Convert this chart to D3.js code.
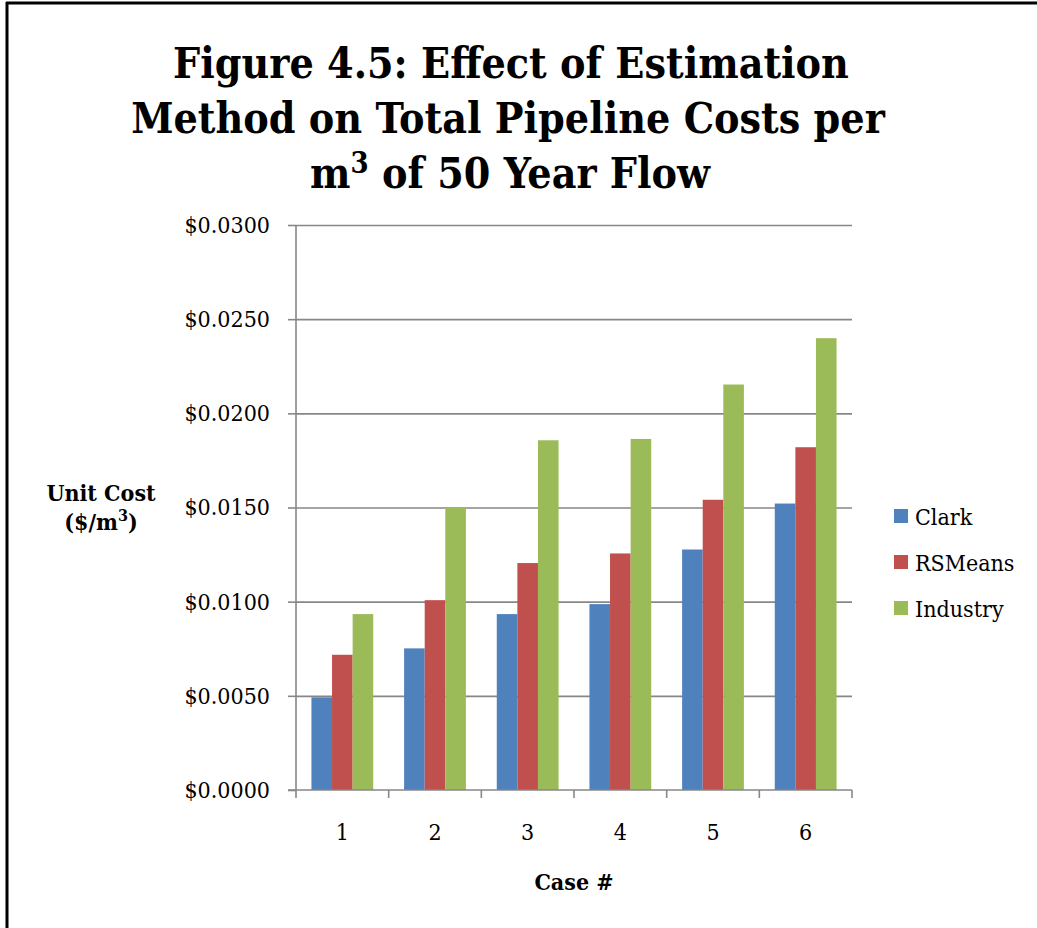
<!DOCTYPE html>
<html>
<head>
<meta charset="utf-8">
<script src="https://cdn.jsdelivr.net/npm/d3@7"></script>
<style>
  html, body { margin: 0; padding: 0; background: #fff; }
  svg { display: block; }
  .serif { font-family: "DejaVu Serif Condensed", "DejaVu Serif", serif; font-stretch: condensed; }
</style>
</head>
<body>
<svg id="chart" width="1037" height="928"></svg>
<script>
// Case numbers along the x axis
const cases = ["1", "2", "3", "4", "5", "6"];
// Estimation methods (legend order)
const methods = ["Clark", "RSMeans", "Industry"];
// Unit cost ($/m³) per case for each method
const clark    = [0.00492, 0.00752, 0.00934, 0.00987, 0.01277, 0.01521];
const rsmeans  = [0.00718, 0.01008, 0.01205, 0.01256, 0.01541, 0.01820];
const industry = [0.00934, 0.01502, 0.01857, 0.01864, 0.02153, 0.02399];
// Y axis tick values
const yTicks = [0, 0.005, 0.010, 0.015, 0.020, 0.025, 0.030];

const seriesValues = { Clark: clark, RSMeans: rsmeans, Industry: industry };
const colors = { Clark: "#4F81BD", RSMeans: "#C0504D", Industry: "#9BBB59" };

const svg = d3.select("#chart");
const FS = 23;        // size of axis, legend and axis-title text
const TITLE_FS = 42.5;

// Outer frame: top and left rules
svg.append("line").attr("x1", 6).attr("x2", 1037).attr("y1", 3).attr("y2", 3)
  .attr("stroke", "#000").attr("stroke-width", 3);
svg.append("line").attr("x1", 7).attr("x2", 7).attr("y1", 2).attr("y2", 928)
  .attr("stroke", "#000").attr("stroke-width", 3);

// Title
const title = svg.append("text").attr("class", "serif")
  .attr("text-anchor", "middle").attr("font-weight", "bold")
  .attr("font-size", TITLE_FS).attr("fill", "#000");
title.append("tspan").attr("x", 511).attr("y", 78).text("Figure 4.5: Effect of Estimation");
title.append("tspan").attr("x", 508).attr("y", 133).text("Method on Total Pipeline Costs per");
title.append("tspan").attr("x", 510).attr("y", 188).text("m");
title.append("tspan").attr("font-size", 29).attr("dy", -15).text("3");
title.append("tspan").attr("dy", 15).text(" of 50 Year Flow");
// center the third line as a whole
{
  const nodes = title.selectAll("tspan").nodes().slice(2);
  let w = 0;
  nodes.forEach(n => { w += n.getComputedTextLength(); });
  d3.select(nodes[0]).attr("x", 510 - w / 2);
  nodes.forEach(n => d3.select(n).attr("text-anchor", "start"));
}

// Plot area
const margin = { left: 296, right: 852, top: 225, bottom: 790 };
const plotW = margin.right - margin.left;

const x0 = d3.scaleBand().domain(cases).range([margin.left, margin.right]).padding(0);
const barW = x0.bandwidth() / 4.5;
const x1 = d3.scaleBand().domain(methods)
  .range([0.75 * barW, x0.bandwidth() - 0.75 * barW]).padding(0);
const y = d3.scaleLinear().domain([0, 0.03]).range([margin.bottom, margin.top]);

const gray = "#878787";

// Horizontal gridlines
svg.append("g")
  .attr("transform", `translate(${margin.left},0)`)
  .call(d3.axisLeft(y).tickValues(yTicks.slice(1)).tickSize(-plotW).tickFormat(""))
  .call(g => g.select(".domain").remove())
  .call(g => g.selectAll("line").attr("stroke", gray).attr("stroke-width", 1.6));

// Bars
const groups = svg.append("g").selectAll("g").data(cases).join("g")
  .attr("transform", d => `translate(${x0(d)},0)`);
groups.selectAll("rect")
  .data((c, i) => methods.map(m => ({ m, v: seriesValues[m][i] })))
  .join("rect")
  .attr("x", d => x1(d.m))
  .attr("width", x1.bandwidth())
  .attr("y", d => y(d.v))
  .attr("height", d => y(0) - y(d.v))
  .attr("fill", d => colors[d.m]);

// Y axis
const yAxis = svg.append("g")
  .attr("transform", `translate(${margin.left},0)`)
  .call(d3.axisLeft(y).tickValues(yTicks).tickSize(8).tickPadding(18)
    .tickFormat(d => "$" + d.toFixed(4)));
yAxis.select(".domain").attr("stroke", gray).attr("stroke-width", 1.6)
  .attr("d", `M0,${margin.top}V${margin.bottom}`);
yAxis.selectAll(".tick line").attr("stroke", gray).attr("stroke-width", 1.6);
yAxis.selectAll(".tick text").attr("class", "serif").attr("font-size", FS).attr("fill", "#000");

// X axis with ticks on category boundaries
const xAxis = svg.append("g").attr("transform", `translate(0,${margin.bottom})`);
xAxis.append("line").attr("x1", margin.left - 8).attr("x2", margin.right)
  .attr("stroke", gray).attr("stroke-width", 1.6);
xAxis.selectAll("line.tk").data(cases.map(c => x0(c)).concat([margin.right])).join("line")
  .attr("class", "tk")
  .attr("x1", d => d).attr("x2", d => d).attr("y1", 0).attr("y2", 8)
  .attr("stroke", gray).attr("stroke-width", 1.6);
xAxis.selectAll("text").data(cases).join("text").attr("class", "serif")
  .attr("x", d => x0(d) + x0.bandwidth() / 2).attr("y", 50)
  .attr("text-anchor", "middle").attr("font-size", FS).attr("fill", "#000")
  .text(d => d);

// Axis titles
svg.append("text").attr("class", "serif").attr("x", 574).attr("y", 890)
  .attr("text-anchor", "middle").attr("font-weight", "bold").attr("font-size", FS)
  .text("Case #");

const yt = svg.append("text").attr("class", "serif").attr("text-anchor", "middle")
  .attr("font-weight", "bold").attr("font-size", FS);
yt.append("tspan").attr("x", 101).attr("y", 501).text("Unit Cost");
yt.append("tspan").attr("x", 101).attr("y", 530).text("($/m");
yt.append("tspan").attr("font-size", 16).attr("dy", -9).text("3");
yt.append("tspan").attr("dy", 9).text(")");
{
  const nodes = yt.selectAll("tspan").nodes().slice(1);
  let w = 0;
  nodes.forEach(n => { w += n.getComputedTextLength(); });
  d3.select(nodes[0]).attr("x", 101 - w / 2);
  nodes.forEach(n => d3.select(n).attr("text-anchor", "start"));
}

// Legend
const legend = svg.append("g").selectAll("g").data(methods).join("g")
  .attr("transform", (d, i) => `translate(894,${509 + i * 46})`);
legend.append("rect").attr("width", 14).attr("height", 14).attr("fill", d => colors[d]);
legend.append("text").attr("class", "serif").attr("x", 21).attr("y", 16)
  .attr("font-size", FS).attr("fill", "#000").text(d => d);
</script>
</body>
</html>
